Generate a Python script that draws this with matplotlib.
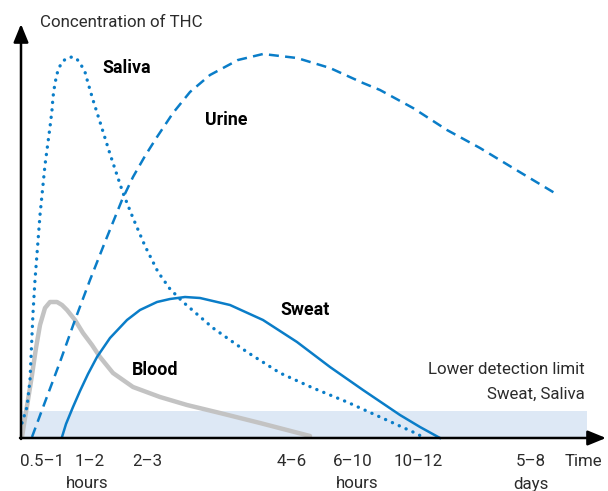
import matplotlib.pyplot as plt

# datos (tiempo y concentracion en unidades arbitrarias)
saliva_t = [1, 6, 9, 12, 14, 19, 24, 29, 31, 32, 34, 37, 41, 46, 51, 55, 59, 64, 67, 72,
            79, 84, 89, 96, 102, 112, 124, 137, 149, 162, 192, 226, 259, 292, 326, 359,
            392, 402]
saliva_c = [15, 31, 58, 125, 158, 223, 273, 311, 328, 341, 355, 368, 376, 380, 381, 380,
            375, 366, 355, 338, 316, 300, 284, 263, 245, 220, 192, 166, 149, 136, 110, 86,
            65, 50, 36, 21, 6, 1]

urine_t = [11, 24, 39, 54, 69, 84, 101, 112, 124, 136, 152, 169, 189, 217, 242, 276, 309,
           342, 359, 392, 426, 459, 492, 537]
urine_c = [1, 36, 76, 118, 158, 196, 238, 261, 282, 301, 325, 346, 363, 378, 384, 380, 370,
           355, 348, 330, 308, 290, 270, 243]

sweat_t = [41, 45, 52, 59, 67, 76, 89, 106, 119, 136, 149, 164, 179, 209, 242, 276, 309,
           342, 379, 399, 419]
sweat_c = [1, 14, 31, 47, 64, 81, 100, 118, 128, 136, 139, 141, 140, 133, 118, 96, 71, 48,
           23, 11, 0]

blood_t = [1, 4, 7, 11, 15, 19, 24, 29, 36, 41, 46, 54, 62, 71, 79, 92, 112, 139, 166, 199,
           239, 289]
blood_c = [1, 20, 38, 63, 90, 113, 130, 136, 136, 133, 128, 118, 105, 93, 81, 65, 51, 41, 33,
           25, 15, 2]

limite = 27
limite_fin = 566

etiquetas = ["0.5\u20131", "1\u20132", "2\u20133", "4\u20136", "6\u201310", "10\u201312", "5\u20138"]
pos_etiquetas = [21, 69, 126, 271, 332, 397, 510]
unidades = ["hours", "hours", "days"]
pos_unidades = [66, 336, 510]

azul = "#0a7dc8"
gris = "#c3c3c3"
texto = "#2b2b2b"
plt.rcParams["font.family"] = ["Roboto", "DejaVu Sans"]

fig = plt.figure(figsize=(6.08, 4.91), dpi=100)
ax = fig.add_axes([0, 0, 1, 1])
ax.set_xlim(-21, 587)
ax.set_ylim(-53, 438)
ax.axis("off")

# limite de deteccion
ax.fill_between([0, limite_fin], 0, limite, color="#dde8f5", lw=0, zorder=1)

# curvas
ax.plot(blood_t, blood_c, color=gris, lw=3.2, solid_capstyle="round",
        solid_joinstyle="round", zorder=2)
ax.plot(sweat_t, sweat_c, color=azul, lw=1.8, solid_joinstyle="round", zorder=3)
ax.plot(urine_t, urine_c, color=azul, lw=1.8, linestyle=(0, (4, 2.5)), zorder=3)
ax.plot(saliva_t, saliva_c, color=azul, lw=2.4, linestyle=(0, (0.05, 2.2)),
        dash_capstyle="round", zorder=3)

# ejes con flechas
flecha = dict(arrowstyle="-|>,head_length=1.1,head_width=0.45",
              color="black", lw=1.8, shrinkA=0, shrinkB=0)
ax.annotate("", xy=(0, 414), xytext=(0, -1), arrowprops=flecha)
ax.annotate("", xy=(585, 0), xytext=(-1, 0), arrowprops=flecha)

# textos
fs = 12.2
fsb = 12.8
ax.text(19, 416, "Concentration of THC", fontsize=fs, color=texto, va="center")
ax.text(81, 370, "Saliva", fontsize=fsb, fontweight="bold", va="center")
ax.text(184, 318, "Urine", fontsize=fsb, fontweight="bold", va="center")
ax.text(259, 128, "Sweat", fontsize=fsb, fontweight="bold", va="center")
ax.text(111, 68, "Blood", fontsize=fsb, fontweight="bold", va="center")
ax.text(564, 68, "Lower detection limit", fontsize=fs, color=texto, ha="right", va="center")
ax.text(564, 44, "Sweat, Saliva", fontsize=fs, color=texto, ha="right", va="center")

for p, e in zip(pos_etiquetas, etiquetas):
    ax.text(p, -23, e, fontsize=fs, color=texto, ha="center", va="center")
for p, u in zip(pos_unidades, unidades):
    ax.text(p, -46, u, fontsize=fs, color=texto, ha="center", va="center")
ax.text(562, -23, "Time", fontsize=fs, color=texto, ha="center", va="center")

plt.savefig("out.png", dpi=100)
